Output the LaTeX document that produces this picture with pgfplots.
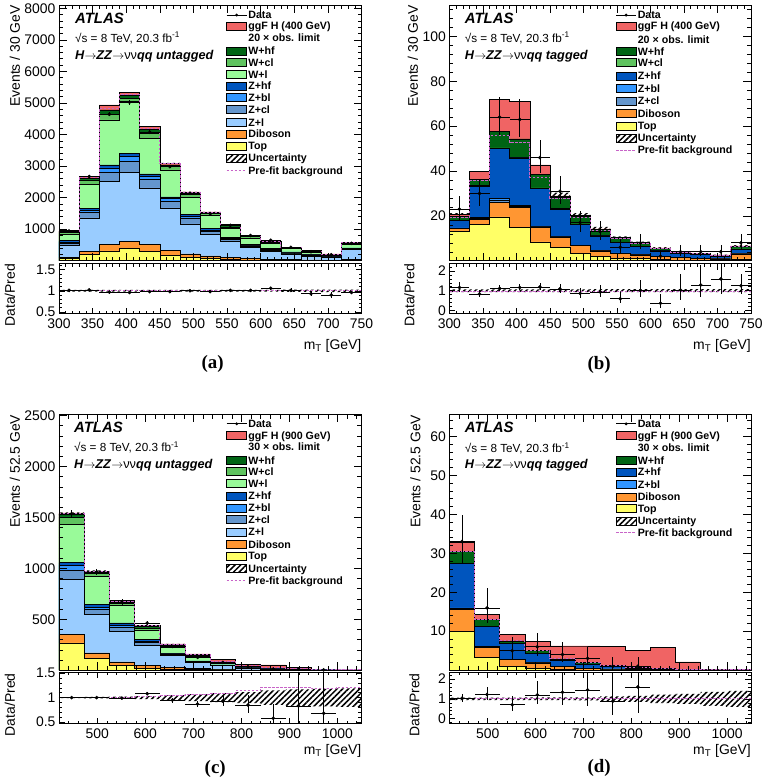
\documentclass[border=0pt]{standalone}
\usepackage{fontspec}
\setmainfont{Liberation Sans}
\newfontfamily\serifbf{Liberation Serif}
\usepackage{pgfplots}
\usepackage{pgfplotstable}
\pgfplotsset{compat=1.18}
\usepgfplotslibrary{fillbetween}
\usetikzlibrary{patterns.meta}

\definecolor{cSig}{RGB}{240,100,100}
\definecolor{cWhf}{RGB}{0,100,20}
\definecolor{cWcl}{RGB}{95,195,95}
\definecolor{cWl}{RGB}{153,250,153}
\definecolor{cZhf}{RGB}{0,85,190}
\definecolor{cZbl}{RGB}{50,150,255}
\definecolor{cZcl}{RGB}{100,150,205}
\definecolor{cZl}{RGB}{153,204,255}
\definecolor{cDib}{RGB}{255,150,50}
\definecolor{cTop}{RGB}{255,255,102}
\definecolor{cPre}{RGB}{200,100,200}

% cumulative stacks, one row per bin (left edge), last row closes the last bin
\pgfplotstableread{
x top dib zl zcl zbl zhf wl wcl whf sig unc pre
300 80 110 480 560 600 640 850 895 925 950 0.02 1.01
330 200 290 1360 1520 1600 1660 2430 2560 2620 2680 0.02 1.01
360 310 510 2515 2810 2940 3040 4460 4640 4780 4940 0.02 1.01
390 380 620 2810 3150 3305 3390 5040 5150 5230 5340 0.02 1.01
420 300 510 2305 2570 2670 2750 3885 4040 4150 4250 0.02 1.01
450 180 330 1675 1885 1970 2020 2880 2990 3040 3090 0.02 1.01
480 110 220 1170 1360 1410 1460 2010 2095 2140 2180 0.02 1.01
510 80 150 830 930 980 1020 1440 1490 1520 1550 0.02 1.01
540 45 100 620 680 710 740 1020 1070 1110 1140 0.02 1.01
570 30 65 430 470 495 515 720 760 790 810 0.02 1.01
600 20 45 300 335 360 385 560 590 610 625 0.02 1.01
630 15 35 215 245 262 280 385 405 420 430 0.025 1.01
660 10 25 145 168 183 195 270 290 305 320 0.025 1.01
690 8 18 95 112 122 133 175 190 205 215 0.03 1.01
720 15 35 350 385 400 410 510 545 575 590 0.03 1.01
750 15 35 350 385 400 410 510 545 575 590 0.03 1.01
}\tA

\pgfplotstableread{
x top dib zcl zbl zhf wcl whf sig unc pre
300 13.3 14.3 14.4 14.6 18.0 18.1 19.8 20.6 0.07 0.98
330 16.3 18.6 18.9 19.3 33.3 33.5 36.3 39.8 0.07 0.98
360 19.6 25.9 26.8 27.7 50.0 50.3 57.8 72.0 0.07 0.97
390 14.8 23.7 24.2 24.8 45.9 46.2 54.3 71.1 0.07 0.97
420 8.4 14.8 15.1 15.4 32.3 32.5 38.5 42.7 0.07 0.97
450 5.9 10.4 10.6 10.8 23.0 23.2 28.4 28.9 0.07 0.98
480 3.4 6.7 6.8 7.0 16.3 16.4 19.8 20.1 0.07 0.98
510 1.9 4.4 4.5 4.6 11.1 11.2 14.0 14.2 0.08 0.98
540 1.2 3.3 3.4 3.5 8.1 8.2 10.1 10.3 0.08 0.98
570 1.0 2.6 2.7 2.8 6.4 6.5 7.9 8.0 0.08 0.98
600 0.6 1.8 1.9 2.0 4.4 4.5 5.6 5.7 0.08 0.98
630 0.4 1.4 1.45 1.5 3.3 3.35 3.9 4.0 0.08 0.98
660 0.3 1.0 1.05 1.1 2.7 2.75 3.1 3.2 0.08 0.98
690 0.2 0.8 0.85 0.9 2.1 2.15 2.5 2.6 0.08 0.98
720 0.8 3.0 3.1 3.2 5.2 5.3 6.4 6.6 0.08 0.98
750 0.8 3.0 3.1 3.2 5.2 5.3 6.4 6.6 0.08 0.98
}\tB

\pgfplotstableread{
x top dib zl zcl zbl zhf wl wcl whf sig unc pre
420 267 350 890 980 1030 1055 1430 1505 1535 1545 0.01 1.0
472.5 115 170 545 597 620 643 925 950 965 970 0.015 1.0
525 50 82 382 420 440 463 640 660 675 688 0.02 1.0
577.5 20 50 245 272 288 303 395 415 428 440 0.03 1.02
630 8 25 145 155 160 165 222 235 245 258 0.05 1.05
682.5 5 15 80 86 89 92 128 137 145 160 0.07 1.07
735 2 6 45 49 51 53 72 78 82 104 0.09 1.09
787.5 1 3 20 22 23 25 33 36 39 60 0.11 1.14
840 0.5 1.5 10 11 12 13 17 18.5 20 52 0.15 1.21
892.5 0.2 0.8 5 5.5 6 6.5 8.5 9.3 10 25 0.17 1.21
945 0.1 0.4 2.5 2.8 3 3.3 4.2 4.6 5 7 0.18 1.18
997.5 0.05 0.2 1.2 1.4 1.5 1.6 2.0 2.3 2.5 3.5 0.19 1.2
1050 0.05 0.2 1.2 1.4 1.5 1.6 2.0 2.3 2.5 3.5 0.19 1.2
}\tC

\pgfplotstableread{
x top dib zbl zhf whf sig unc pre
420 10 15.6 16 27.4 30.5 32.8 0.06 1.0
472.5 3.2 5.9 6.1 11.3 13.0 14.3 0.06 1.0
525 1.0 2.7 2.8 6.8 7.5 9.1 0.06 1.0
577.5 0.5 1.9 2.0 4.4 5.0 7.4 0.07 1.0
630 0.2 0.9 1.0 2.5 2.9 6.2 0.07 1.0
682.5 0.1 0.5 0.6 1.6 2.0 6.2 0.08 1.0
735 0.05 0.3 0.35 0.95 1.15 6.1 0.12 1.0
787.5 0.03 0.2 0.22 0.5 0.65 5.0 0.15 1.0
840 0.02 0.12 0.14 0.32 0.42 5.9 0.22 1.0
892.5 0.01 0.08 0.09 0.2 0.28 2.1 0.25 1.0
945 0.01 0.05 0.06 0.13 0.18 0.2 0.35 1.0
997.5 0.01 0.04 0.05 0.1 0.13 0.15 0.4 1.0
1050 0.01 0.04 0.05 0.1 0.13 0.15 0.4 1.0
}\tD

\newcommand\fs[1]{\fontsize{#1}{#1}\selectfont}
\newcommand\legfont{\bfseries\fs{10.7}}

\tikzset{
  hatch/.style={pattern={Lines[angle=45,distance=4bp,line width=1.5bp]}, pattern color=black},
  preline/.style={draw=cPre, line width=0.9bp, dash pattern=on 2.5bp off 1.5bp},
}
\pgfplotsset{
  atl/.style={scale only axis, anchor=south west, tick align=inside, axis on top,
    /pgf/number format/assume math mode=true, /pgf/number format/1000 sep={},
    scaled ticks=false, axis line style={line width=0.6bp},
    every tick/.style={black, line width=0.5bp}, minor tick num=4,
    ticklabel style={font=\fs{14}}},
  mainax/.style={atl, height=256bp, xticklabels={},
    major tick length=8bp, minor tick length=4bp},
  ratax/.style={atl, major tick length=6bp, minor tick length=3bp,
    minor y tick num=0, xticklabel style={yshift=-1.5bp}},
  hist/.style={const plot mark left, draw=black, line width=0.5bp},
  dat/.style={only marks, mark=*, mark size=1.6bp, black,
    error bars/.cd, x dir=both, y dir=both, x explicit, y explicit,
    error bar style={line width=0.6bp, black}, error mark=none},
}

% uncertainty band and pre-fit line on the main panel
\newcommand\mainband[2]{%
  \addplot[name path=u#2, draw=none, const plot mark left] table[x=x, y expr=\thisrow{whf}*(1+\thisrow{unc})]{#1};
  \addplot[name path=l#2, draw=none, const plot mark left] table[x=x, y expr=\thisrow{whf}*(1-\thisrow{unc})]{#1};
  \addplot[hatch, draw=none] fill between[of=u#2 and l#2];
  \addplot[const plot mark left, preline] table[x=x, y expr=\thisrow{whf}*\thisrow{pre}]{#1};}
% the same on the ratio panel
\newcommand\ratband[2]{%
  \addplot[name path=ru#2, draw=none, const plot mark left] table[x=x, y expr=1+\thisrow{unc}]{#1};
  \addplot[name path=rl#2, draw=none, const plot mark left] table[x=x, y expr=1-\thisrow{unc}]{#1};
  \addplot[hatch, draw=none] fill between[of=ru#2 and rl#2];
  \addplot[const plot mark left, preline] table[x=x, y=pre]{#1};}

% legend rows: x of box, y (from top) of row centre
\newcommand\lbox[4]{%
  \fill[#3] (#1,{779-#2}) rectangle ({#1+20},{787-#2});
  \draw[line width=0.5bp] (#1,{779-#2}) rectangle ({#1+20},{787-#2});
  \node[anchor=base west,inner sep=0,font=\legfont] at ({#1+21.5},{779.2-#2}) {#4};}
\newcommand\ltext[3]{\node[anchor=base west,inner sep=0,font=\legfont] at ({#1+21.5},{779.2-#2}) {#3};}
\newcommand\ldata[2]{%
  \draw[line width=0.6bp] (#1,{783-#2}) -- ({#1+20},{783-#2});
  \fill ({#1+10},{783-#2}) circle (1.6bp);
  \ltext{#1}{#2}{Data}}
\newcommand\lpre[2]{%
  \draw[preline] (#1,{783-#2}) -- ({#1+20},{783-#2});
  \ltext{#1}{#2}{Pre-fit background}}
\newcommand\chan[1]{\textbf{\textit{H}}$\rightarrow$\textbf{\textit{ZZ}}$\rightarrow$νν\textbf{\textit{qq #1}}}

\begin{document}
\begin{tikzpicture}[x=1bp,y=1bp]
\path (0,0) rectangle (764,783);

%%%%%%%% (a)
\begin{axis}[mainax, at={(59bp,523bp)}, width=303bp, xmin=300, xmax=750, ymin=0, ymax=8100,
  xtick={300,350,...,750}, ytick={0,1000,...,8000},
  yticklabels={,1000,2000,3000,4000,5000,6000,7000,8000}]
\addplot[hist, fill=cSig] table[x=x,y=sig]{\tA} \closedcycle;
\addplot[hist, fill=cWhf] table[x=x,y=whf]{\tA} \closedcycle;
\addplot[hist, fill=cWcl] table[x=x,y=wcl]{\tA} \closedcycle;
\addplot[hist, fill=cWl] table[x=x,y=wl]{\tA} \closedcycle;
\addplot[hist, fill=cZhf] table[x=x,y=zhf]{\tA} \closedcycle;
\addplot[hist, fill=cZbl] table[x=x,y=zbl]{\tA} \closedcycle;
\addplot[hist, fill=cZcl] table[x=x,y=zcl]{\tA} \closedcycle;
\addplot[hist, fill=cZl] table[x=x,y=zl]{\tA} \closedcycle;
\addplot[hist, fill=cDib] table[x=x,y=dib]{\tA} \closedcycle;
\addplot[hist, fill=cTop] table[x=x,y=top]{\tA} \closedcycle;
\mainband{\tA}{A}
\addplot[dat] coordinates {(315,940) +- (15,31) (345,2670) +- (15,52) (375,4640) +- (15,68)
 (405,5020) +- (15,71) (435,4070) +- (15,64) (465,2980) +- (15,55) (495,2140) +- (15,46)
 (525,1490) +- (15,39) (555,1120) +- (15,33) (585,800) +- (15,28) (615,650) +- (15,25)
 (645,425) +- (15,21) (675,285) +- (15,17) (705,187) +- (15,14) (735,550) +- (15,23)};
\end{axis}
\begin{axis}[ratax, at={(59bp,470bp)}, width=303bp, height=50bp, xmin=300, xmax=750, ymin=0.46, ymax=1.64,
  xtick={300,350,...,750}, xticklabels={300,350,400,450,500,550,600,650,700,750},
  ytick={0.5,1,1.5}, yticklabels={0.5,1,1.5},
  minor ytick={0.6,0.7,0.8,0.9,1.1,1.2,1.3,1.4,1.6}]
\ratband{\tA}{A}
\addplot[dat] coordinates {(315,1.01) +- (15,0.034) (345,1.02) +- (15,0.02) (375,0.97) +- (15,0.014)
 (405,0.96) +- (15,0.014) (435,0.98) +- (15,0.015) (465,0.98) +- (15,0.018) (495,1.00) +- (15,0.021)
 (525,0.98) +- (15,0.026) (555,1.01) +- (15,0.03) (585,1.01) +- (15,0.035) (615,1.06) +- (15,0.04)
 (645,1.01) +- (15,0.05) (675,0.93) +- (15,0.055) (705,0.90) +- (15,0.065) (735,0.96) +- (15,0.04)};
\end{axis}

%%%%%%%% (b)
\begin{axis}[mainax, at={(450bp,523bp)}, width=302bp, xmin=300, xmax=750, ymin=0, ymax=114,
  xtick={300,350,...,750}, ytick={0,20,...,100}, yticklabels={,20,40,60,80,100},
  minor y tick num=0, minor ytick={4,8,...,112}]
\addplot[hist, fill=cSig] table[x=x,y=sig]{\tB} \closedcycle;
\addplot[hist, fill=cWhf] table[x=x,y=whf]{\tB} \closedcycle;
\addplot[hist, fill=cWcl] table[x=x,y=wcl]{\tB} \closedcycle;
\addplot[hist, fill=cZhf] table[x=x,y=zhf]{\tB} \closedcycle;
\addplot[hist, fill=cZbl] table[x=x,y=zbl]{\tB} \closedcycle;
\addplot[hist, fill=cZcl] table[x=x,y=zcl]{\tB} \closedcycle;
\addplot[hist, fill=cDib] table[x=x,y=dib]{\tB} \closedcycle;
\addplot[hist, fill=cTop] table[x=x,y=top]{\tB} \closedcycle;
\mainband{\tB}{B}
\addplot[dat] coordinates {(315,23) += (15,5.8) -= (15,4.8) (345,30) += (15,6.5) -= (15,5.5)
 (375,64) += (15,9) -= (15,8) (405,63) += (15,9) -= (15,7.9) (435,46) += (15,7.8) -= (15,6.8)
 (465,31) += (15,6.6) -= (15,5.5) (495,17) += (15,5.2) -= (15,4.1) (525,13) += (15,4.7) -= (15,3.6)
 (555,6) += (15,3.6) -= (15,2.4) (585,8) += (15,4) -= (15,2.8) (615,2) += (15,2.6) -= (15,1.3)
 (645,4) += (15,3.2) -= (15,1.9) (675,4) += (15,3.2) -= (15,1.9) (705,4) += (15,3.2) -= (15,1.9)
 (735,8) += (15,4) -= (15,2.8)};
\end{axis}
\begin{axis}[ratax, at={(450bp,470bp)}, width=302bp, height=50bp, xmin=300, xmax=750, ymin=-0.17, ymax=2.37,
  xtick={300,350,...,750}, xticklabels={300,350,400,450,500,550,600,650,700,750},
  ytick={0,1,2}, yticklabels={0,1,2},
  minor ytick={0.2,0.4,0.6,0.8,1.2,1.4,1.6,1.8,2.2}]
\ratband{\tB}{B}
\addplot[dat] coordinates {(315,1.16) += (15,0.29) -= (15,0.24) (345,0.83) += (15,0.18) -= (15,0.15)
 (375,1.11) += (15,0.16) -= (15,0.14) (405,1.16) += (15,0.17) -= (15,0.15) (435,1.19) += (15,0.2) -= (15,0.18)
 (465,1.09) += (15,0.23) -= (15,0.19) (495,0.86) += (15,0.26) -= (15,0.21) (525,0.93) += (15,0.34) -= (15,0.26)
 (555,0.59) += (15,0.36) -= (15,0.24) (585,1.01) += (15,0.51) -= (15,0.35) (615,0.36) += (15,0.46) -= (15,0.23)
 (645,1.03) += (15,0.82) -= (15,0.49) (675,1.29) += (15,1.03) -= (15,0.61) (705,1.60) += (15,1.28) -= (15,0.76)
 (735,1.25) += (15,0.62) -= (15,0.44)};
\end{axis}

%%%%%%%% (c)
\begin{axis}[mainax, at={(59bp,113bp)}, width=303bp, xmin=420, xmax=1050, ymin=0, ymax=2510,
  xtick={500,600,...,1000}, minor x tick num=0, minor xtick={440,460,...,1040},
  ytick={0,500,...,2500}, yticklabels={,500,1000,1500,2000,2500}]
\addplot[hist, fill=cSig] table[x=x,y=sig]{\tC} \closedcycle;
\addplot[hist, fill=cWhf] table[x=x,y=whf]{\tC} \closedcycle;
\addplot[hist, fill=cWcl] table[x=x,y=wcl]{\tC} \closedcycle;
\addplot[hist, fill=cWl] table[x=x,y=wl]{\tC} \closedcycle;
\addplot[hist, fill=cZhf] table[x=x,y=zhf]{\tC} \closedcycle;
\addplot[hist, fill=cZbl] table[x=x,y=zbl]{\tC} \closedcycle;
\addplot[hist, fill=cZcl] table[x=x,y=zcl]{\tC} \closedcycle;
\addplot[hist, fill=cZl] table[x=x,y=zl]{\tC} \closedcycle;
\addplot[hist, fill=cDib] table[x=x,y=dib]{\tC} \closedcycle;
\addplot[hist, fill=cTop] table[x=x,y=top]{\tC} \closedcycle;
\mainband{\tC}{C}
\addplot[dat] coordinates {(446.25,1535) +- (26.25,39) (498.75,965) +- (26.25,31) (551.25,668) +- (26.25,26)
 (603.75,462) +- (26.25,21) (656.25,233) +- (26.25,15) (708.75,126) +- (26.25,11) (761.25,76) +- (26.25,8.7)
 (813.75,33) += (26.25,6.8) -= (26.25,5.7) (866.25,12) += (26.25,4.5) -= (26.25,3.4)
 (918.75,8) += (26.25,4) -= (26.25,2.8) (971.25,3) += (26.25,2.9) -= (26.25,1.6)};
\end{axis}
\begin{axis}[ratax, at={(59bp,59.5bp)}, width=303bp, height=51.5bp, xmin=420, xmax=1050, ymin=0.47, ymax=1.52,
  xtick={500,600,...,1000}, xticklabels={500,600,700,800,900,1000},
  minor x tick num=0, minor xtick={440,460,...,1040},
  ytick={0.5,1,1.5}, yticklabels={0.5,1,1.5},
  minor ytick={0.6,0.7,0.8,0.9,1.1,1.2,1.3,1.4}]
\ratband{\tC}{C}
\addplot[dat] coordinates {(446.25,1.00) +- (26.25,0.012) (498.75,1.00) +- (26.25,0.016) (551.25,0.99) +- (26.25,0.02)
 (603.75,1.08) +- (26.25,0.03) (656.25,0.95) +- (26.25,0.05) (708.75,0.87) +- (26.25,0.07) (761.25,0.93) +- (26.25,0.1)
 (813.75,0.85) += (26.25,0.2) -= (26.25,0.17) (866.25,0.58) += (26.25,0.28) -= (26.25,0.2)
 (918.75,0.83) += (26.25,0.8) -= (26.25,0.35) (971.25,0.68) += (26.25,1.0) -= (26.25,0.45)};
\end{axis}

%%%%%%%% (d)
\begin{axis}[mainax, at={(450bp,113bp)}, width=302bp, xmin=420, xmax=1050, ymin=0, ymax=65.6,
  xtick={500,600,...,1000}, minor x tick num=0, minor xtick={440,460,...,1040},
  ytick={0,10,...,60}, yticklabels={,10,20,30,40,50,60},
  minor y tick num=0, minor ytick={2,4,...,64}]
\addplot[hist, fill=cSig] table[x=x,y=sig]{\tD} \closedcycle;
\addplot[hist, fill=cWhf] table[x=x,y=whf]{\tD} \closedcycle;
\addplot[hist, fill=cZhf] table[x=x,y=zhf]{\tD} \closedcycle;
\addplot[hist, fill=cZbl] table[x=x,y=zbl]{\tD} \closedcycle;
\addplot[hist, fill=cDib] table[x=x,y=dib]{\tD} \closedcycle;
\addplot[hist, fill=cTop] table[x=x,y=top]{\tD} \closedcycle;
\mainband{\tD}{D}
\addplot[dat] coordinates {(446.25,33) += (26.25,6.8) -= (26.25,5.7) (498.75,16) += (26.25,5.1) -= (26.25,4)
 (551.25,5) += (26.25,3.4) -= (26.25,2.2) (603.75,6) += (26.25,3.6) -= (26.25,2.4)
 (656.25,4) += (26.25,3.2) -= (26.25,1.9) (708.75,3) += (26.25,2.9) -= (26.25,1.6)
 (761.25,1) += (26.25,2.3) -= (26.25,0.8) (813.75,1) += (26.25,2.3) -= (26.25,0.8)};
\end{axis}
\begin{axis}[ratax, at={(450bp,59.5bp)}, width=302bp, height=51.5bp, xmin=420, xmax=1050, ymin=-0.25, ymax=2.35,
  xtick={500,600,...,1000}, xticklabels={500,600,700,800,900,1000},
  minor x tick num=0, minor xtick={440,460,...,1040},
  ytick={0,1,2}, yticklabels={0,1,2},
  minor ytick={-0.2,0.2,0.4,0.6,0.8,1.2,1.4,1.6,1.8,2.2}]
\ratband{\tD}{D}
\addplot[dat] coordinates {(446.25,1.03) += (26.25,0.21) -= (26.25,0.18) (498.75,1.22) += (26.25,0.38) -= (26.25,0.3)
 (551.25,0.70) += (26.25,0.45) -= (26.25,0.3) (603.75,1.20) += (26.25,0.7) -= (26.25,0.48)
 (656.25,1.33) += (26.25,1.1) -= (26.25,0.65) (708.75,1.45) += (26.25,1.4) -= (26.25,0.8)
 (761.25,0.88) += (26.25,2.0) -= (26.25,0.7) (813.75,1.60) += (26.25,3.0) -= (26.25,1.3)};
\end{axis}

%%%%%%%% axis titles
\foreach \xb/\xr/\yt/\lab in {20/15/4/30, 418.5/415/4/30}{
  \node[rotate=90, anchor=base east, inner sep=0, font=\fs{14}] at (\xb,{783-\yt}) {Events / \lab{} GeV};
  \node[rotate=90, anchor=base east, inner sep=0, font=\fs{14}] at (\xr,{783-263}) {Data/Pred};}
\foreach \xb/\xr in {20/15, 421/420}{
  \node[rotate=90, anchor=base east, inner sep=0, font=\fs{14}] at (\xb,{783-414}) {Events / 52.5 GeV};
  \node[rotate=90, anchor=base east, inner sep=0, font=\fs{14}] at (\xr,{783-673}) {Data/Pred};}
\foreach \xe/\yb in {362/349, 752/349, 362/754, 752/754}{
  \node[anchor=base east, inner sep=0, font=\fs{14}] at (\xe,{783-\yb}) {m\textsubscript{T} [GeV]};}
\foreach \xc/\yc/\t in {213/363.5/a, 600/364.5/b, 215.5/769/c, 600/768/d}{
  \node[font=\serifbf\bfseries\fs{19}, inner sep=0] at (\xc,{783-\yc}) {(\t)};}

%%%%%%%% ATLAS labels
\foreach \xl/\ya/\ys/\yh/\c in {75/22.7/41.3/58.5/untagged, 465.3/22.7/41.3/58.5/tagged,
    74/431.7/451/468/untagged, 465.3/432.3/452/468/tagged}{
  \node[anchor=base west, inner sep=0, font=\bfseries\itshape\fs{15}] at (\xl,{783-\ya}) {ATLAS};
  \node[anchor=base west, inner sep=0, font=\fs{11.8}] at (\xl,{783-\ys}) {√s = 8 TeV, 20.3 fb\textsuperscript{-1}};
  \node[anchor=base west, inner sep=0, font=\fs{12.8}] at (\xl,{783-\yh}) {\chan{\c}};}

%%%%%%%% legends
% (a)
\ldata{227}{14}
\lbox{227}{25}{cSig}{ggF H (400 GeV)}
\ltext{227}{36.7}{20 × obs. limit}
\lbox{227}{50}{cWhf}{W+hf}
\lbox{227}{61.7}{cWcl}{W+cl}
\lbox{227}{73.3}{cWl}{W+l}
\lbox{227}{85}{cZhf}{Z+hf}
\lbox{227}{96.7}{cZbl}{Z+bl}
\lbox{227}{108.3}{cZcl}{Z+cl}
\lbox{227}{121.7}{cZl}{Z+l}
\lbox{227}{133.3}{cDib}{Diboson}
\lbox{227}{145}{cTop}{Top}
\lbox{227}{157.3}{hatch}{Uncertainty}
\lpre{227}{170}
% (b)
\ldata{617}{14}
\lbox{617}{25}{cSig}{ggF H (400 GeV)}
\ltext{617}{38.3}{20 × obs. limit}
\lbox{617}{50.7}{cWhf}{W+hf}
\lbox{617}{61.7}{cWcl}{W+cl}
\lbox{617}{75}{cZhf}{Z+hf}
\lbox{617}{87.3}{cZbl}{Z+bl}
\lbox{617}{100}{cZcl}{Z+cl}
\lbox{617}{112.7}{cDib}{Diboson}
\lbox{617}{125}{cTop}{Top}
\lbox{617}{137.3}{hatch}{Uncertainty}
\lpre{617}{149.3}
% (c)
\ldata{227}{423.3}
\lbox{227}{435}{cSig}{ggF H (900 GeV)}
\ltext{227}{446.7}{30 × obs. limit}
\lbox{227}{460}{cWhf}{W+hf}
\lbox{227}{471}{cWcl}{W+cl}
\lbox{227}{483.3}{cWl}{W+l}
\lbox{227}{495.7}{cZhf}{Z+hf}
\lbox{227}{507.7}{cZbl}{Z+bl}
\lbox{227}{519.3}{cZcl}{Z+cl}
\lbox{227}{531.7}{cZl}{Z+l}
\lbox{227}{544}{cDib}{Diboson}
\lbox{227}{555.7}{cTop}{Top}
\lbox{227}{568.3}{hatch}{Uncertainty}
\lpre{227}{580}
% (d)
\ldata{617}{423.3}
\lbox{617}{435}{cSig}{ggF H (900 GeV)}
\ltext{617}{447.3}{30 × obs. limit}
\lbox{617}{460}{cWhf}{W+hf}
\lbox{617}{471.7}{cZhf}{Z+hf}
\lbox{617}{484.3}{cZbl}{Z+bl}
\lbox{617}{496.7}{cDib}{Diboson}
\lbox{617}{508.3}{cTop}{Top}
\lbox{617}{520.7}{hatch}{Uncertainty}
\lpre{617}{532.3}
\end{tikzpicture}
\end{document}
